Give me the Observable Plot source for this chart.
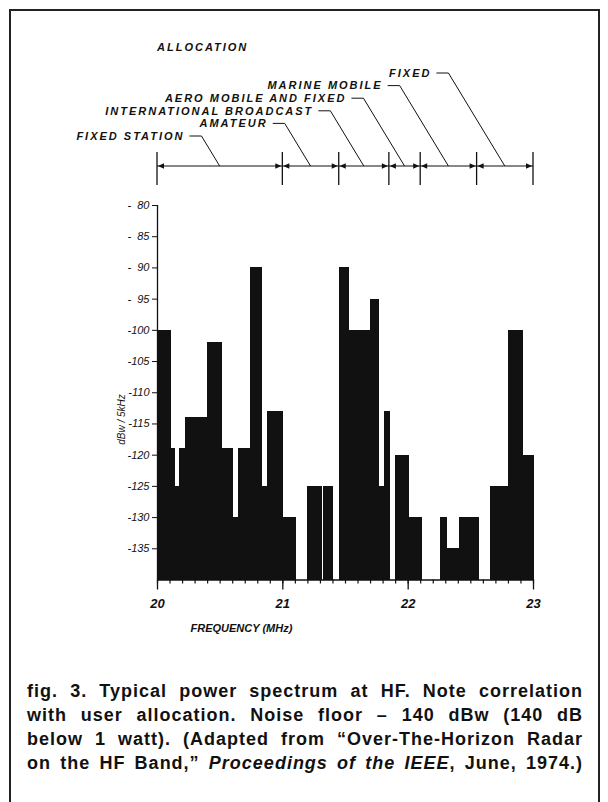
<!DOCTYPE html>
<html><head><meta charset="utf-8">
<script src="https://cdn.jsdelivr.net/npm/d3@7"></script>
<script src="https://cdn.jsdelivr.net/npm/@observablehq/plot@0.6"></script>
<style>
html,body{margin:0;padding:0;background:#fff;}
body{width:608px;height:802px;position:relative;overflow:hidden;font-family:"Liberation Sans",Arial,sans-serif;color:#111;}
#frame{position:absolute;left:9px;top:9px;width:587px;height:830px;border:2px solid #222;border-bottom:none;}
#chart{position:absolute;left:0;top:0;}
#caption{position:absolute;left:27px;top:679px;width:556px;font-weight:bold;font-size:18px;line-height:24px;color:#111;letter-spacing:1px;}
#caption div{text-align:justify;text-align-last:justify;white-space:nowrap;}
</style>
</head><body>
<div id="frame"></div>
<div id="chart"></div>
<div id="caption">
<div>fig. 3. Typical power spectrum at HF. Note correlation</div>
<div>with user allocation. Noise floor – 140 dBw (140 dB</div>
<div>below 1 watt). (Adapted from “Over-The-Horizon Radar</div>
<div>on the HF Band,” <i>Proceedings of the IEEE</i>, June, 1974.)</div>
</div>
<script>
// ---- data (MHz, dBw/5kHz) ----
const freqStart = [20.00, 20.115, 20.14, 20.176, 20.22, 20.395, 20.515, 20.61, 20.65, 20.74, 20.84, 20.875, 21.008,
                   21.195, 21.328, 21.45, 21.53, 21.70, 21.77, 21.81, 21.90, 22.01, 22.256, 22.31, 22.41, 22.656, 22.80, 22.92];
const freqEnd   = [20.115, 20.14, 20.176, 20.22, 20.395, 20.515, 20.61, 20.65, 20.74, 20.84, 20.875, 21.008, 21.11,
                   21.315, 21.408, 21.53, 21.70, 21.77, 21.81, 21.862, 22.01, 22.115, 22.31, 22.41, 22.57, 22.80, 22.92, 23.01];
const levelDbw  = [-100, -119, -125, -119, -114, -102, -119, -130, -119, -90, -125, -113, -130,
                   -125, -125, -90, -100, -95, -125, -113, -120, -130, -130, -135, -130, -125, -100, -120];
const bandEdges = [20, 21, 21.45, 21.85, 22.1, 22.55, 23];
const bandNames = ["FIXED STATION", "AMATEUR", "INTERNATIONAL BROADCAST", "AERO MOBILE AND FIXED", "MARINE MOBILE", "FIXED"];
const yTicks = [-80, -85, -90, -95, -100, -105, -110, -115, -120, -125, -130, -135];
const xTicks = [20, 21, 22, 23];
const noiseFloor = -140;

const bars = freqStart.map((s, i) => ({x1: s, x2: freqEnd[i], y: levelDbw[i]}));
const minorTicks = d3.range(0, 31).map(i => 20 + i / 10);
const ink = "#111";
const labelFont = "'Liberation Sans', Arial, sans-serif";

function header(index, scales, values, dims) {
  const sx = scales.x;
  const lineY = dims.marginTop - 39;
  const g = d3.create("svg:g").attr("stroke", ink).attr("fill", ink)
    .attr("font-family", labelFont).attr("font-size", 11).attr("font-style", "italic").attr("font-weight", "bold");
  g.append("line").attr("x1", sx(bandEdges[0])).attr("x2", sx(bandEdges[bandEdges.length - 1]))
    .attr("y1", lineY).attr("y2", lineY).attr("stroke-width", 1.2);
  bandEdges.forEach(e => g.append("line").attr("x1", sx(e)).attr("x2", sx(e))
    .attr("y1", lineY - 14).attr("y2", lineY + 19).attr("stroke-width", 1.3));
  for (let i = 0; i < bandNames.length; i++) {
    const a = sx(bandEdges[i]), b = sx(bandEdges[i + 1]);
    g.append("path").attr("stroke", "none")
      .attr("d", `M${a + 1},${lineY}L${a + 7},${lineY - 2.8}L${a + 7},${lineY + 2.8}Z`);
    g.append("path").attr("stroke", "none")
      .attr("d", `M${b - 1},${lineY}L${b - 7},${lineY - 2.8}L${b - 7},${lineY + 2.8}Z`);
    const mid = (a + b) / 2;
    const rowY = lineY - 30 - i * 12.6;
    const xs = mid - (lineY - rowY) / 1.65;
    g.append("path").attr("fill", "none").attr("stroke-width", 1)
      .attr("d", `M${xs - 12},${rowY}L${xs},${rowY}L${mid},${lineY}`);
    g.append("text").attr("stroke", "none").attr("x", xs - 17).attr("y", rowY).attr("dy", "0.35em")
      .attr("text-anchor", "end").attr("letter-spacing", 2).text(bandNames[i]);
  }
  g.append("text").attr("stroke", "none").attr("x", sx(bandEdges[0])).attr("y", 47).attr("dy", "0.35em")
    .attr("text-anchor", "start").attr("letter-spacing", 2).text("ALLOCATION");
  return g.node();
}

const chart = Plot.plot({
  width: 608, height: 660,
  marginLeft: 157, marginRight: 75, marginTop: 205, marginBottom: 80.5,
  x: {domain: [20, 23]},
  y: {domain: [noiseFloor, -80]},
  style: {background: "transparent", color: ink, fontFamily: labelFont},
  marks: [
    Plot.rect(bars, {x1: "x1", x2: "x2", y1: noiseFloor, y2: "y", fill: ink, shapeRendering: "crispEdges"}),
    Plot.ruleY([noiseFloor], {stroke: ink, strokeWidth: 1.3}),
    Plot.ruleX([20], {stroke: ink, strokeWidth: 1.3}),
    Plot.axisX({ticks: minorTicks, tickSize: 4, tickFormat: () => "", strokeWidth: 1.2}),
    Plot.axisX({ticks: xTicks, tickSize: 10, tickPadding: 9, fontSize: 13, fontStyle: "italic", fontWeight: "bold",
                tickFormat: d => String(d), label: null, strokeWidth: 1.3}),
    Plot.axisY({ticks: yTicks, tickSize: 5, tickPadding: 3, fontSize: 11, fontStyle: "italic",
                tickFormat: d => d <= -100 ? "-" + Math.abs(d) : "-\u2007" + Math.abs(d), label: null}),
    Plot.text(["FREQUENCY (MHz)"], {frameAnchor: "bottom-left", dx: 33, dy: 52, textAnchor: "start",
                fontSize: 11, fontStyle: "italic", fontWeight: "bold", letterSpacing: 1.8}),
    Plot.text(["dBw / 5kHz"], {frameAnchor: "left", dx: -36, dy: 52, rotate: -90,
                fontSize: 10, fontStyle: "italic", letterSpacing: 1}),
    header
  ]
});
document.getElementById("chart").appendChild(chart);
</script>
</body></html>
